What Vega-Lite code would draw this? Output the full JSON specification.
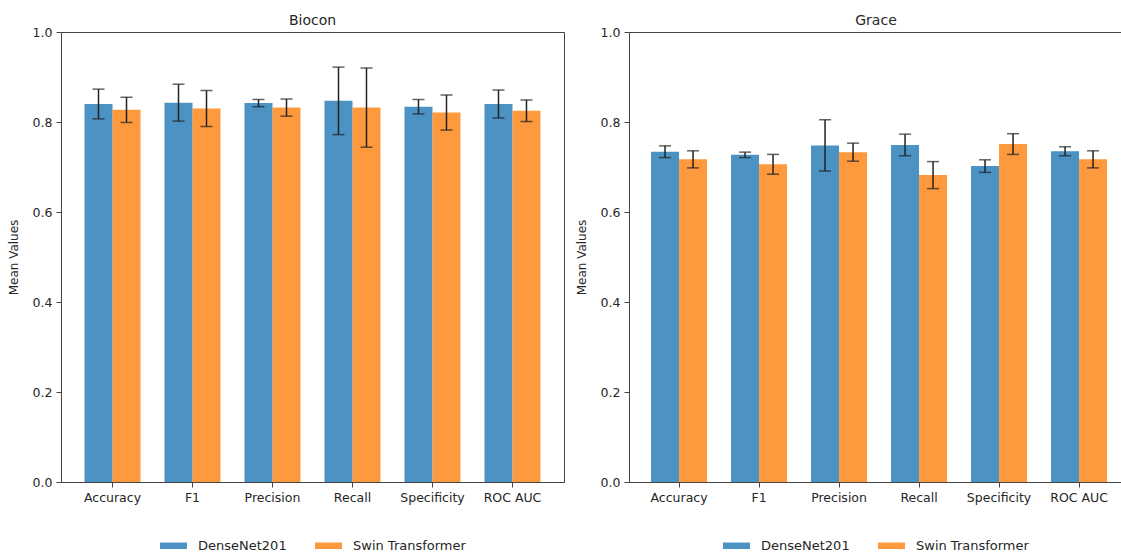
{
  "$schema": "https://vega.github.io/schema/vega-lite/v6.json",
  "padding": {"left": 6, "top": 13, "right": 0, "bottom": 0},
  "background": "white",
  "config": {
    "font": "DejaVu Sans",
    "view": {"stroke": "#444", "strokeWidth": 1},
    "axis": {"labelFont": "DejaVu Sans", "labelFontSize": 12.5, "labelColor": "#262626", "titleFont": "DejaVu Sans", "titleFontSize": 12, "titleFontWeight": "normal", "titleColor": "#262626", "domainColor": "#444", "tickColor": "#444", "grid": false, "tickSize": 5, "labelPadding": 4},
    "legend": {"layout": {"bottom": {"anchor": "middle"}}},
    "title": {"fontSize": 14, "fontWeight": "normal", "font": "DejaVu Sans", "color": "#262626", "offset": -1.5}
  },
  "datasets": {
    "biocon": [
      {"metric": "Accuracy", "model": "DenseNet201", "mean": 0.840, "err": 0.033},
      {"metric": "Accuracy", "model": "Swin Transformer", "mean": 0.827, "err": 0.028},
      {"metric": "F1", "model": "DenseNet201", "mean": 0.843, "err": 0.041},
      {"metric": "F1", "model": "Swin Transformer", "mean": 0.830, "err": 0.040},
      {"metric": "Precision", "model": "DenseNet201", "mean": 0.842, "err": 0.008},
      {"metric": "Precision", "model": "Swin Transformer", "mean": 0.832, "err": 0.019},
      {"metric": "Recall", "model": "DenseNet201", "mean": 0.847, "err": 0.075},
      {"metric": "Recall", "model": "Swin Transformer", "mean": 0.832, "err": 0.088},
      {"metric": "Specificity", "model": "DenseNet201", "mean": 0.834, "err": 0.016},
      {"metric": "Specificity", "model": "Swin Transformer", "mean": 0.821, "err": 0.039},
      {"metric": "ROC AUC", "model": "DenseNet201", "mean": 0.840, "err": 0.031},
      {"metric": "ROC AUC", "model": "Swin Transformer", "mean": 0.825, "err": 0.024}
    ],
    "grace": [
      {"metric": "Accuracy", "model": "DenseNet201", "mean": 0.734, "err": 0.013},
      {"metric": "Accuracy", "model": "Swin Transformer", "mean": 0.717, "err": 0.019},
      {"metric": "F1", "model": "DenseNet201", "mean": 0.727, "err": 0.006},
      {"metric": "F1", "model": "Swin Transformer", "mean": 0.706, "err": 0.022},
      {"metric": "Precision", "model": "DenseNet201", "mean": 0.748, "err": 0.057},
      {"metric": "Precision", "model": "Swin Transformer", "mean": 0.733, "err": 0.020},
      {"metric": "Recall", "model": "DenseNet201", "mean": 0.749, "err": 0.024},
      {"metric": "Recall", "model": "Swin Transformer", "mean": 0.682, "err": 0.030},
      {"metric": "Specificity", "model": "DenseNet201", "mean": 0.702, "err": 0.014},
      {"metric": "Specificity", "model": "Swin Transformer", "mean": 0.751, "err": 0.023},
      {"metric": "ROC AUC", "model": "DenseNet201", "mean": 0.735, "err": 0.010},
      {"metric": "ROC AUC", "model": "Swin Transformer", "mean": 0.717, "err": 0.019}
    ]
  },
  "resolve": {"legend": {"color": "independent"}, "scale": {"color": "independent"}},
  "spacing": 9,
  "hconcat": [
    {
      "title": "Biocon",
      "width": 503,
      "height": 450,
      "data": {"name": "biocon"},
      "encoding": {
        "x": {"field": "metric", "type": "nominal", "sort": ["Accuracy", "F1", "Precision", "Recall", "Specificity", "ROC AUC"], "scale": {"paddingInner": 0.3, "paddingOuter": 0.294}, "axis": {"title": null, "labelAngle": 0}},
        "xOffset": {"field": "model", "type": "nominal", "sort": ["DenseNet201", "Swin Transformer"]}
      },
      "layer": [
        {
          "mark": {"type": "bar", "opacity": 0.8},
          "encoding": {
            "y": {"field": "mean", "type": "quantitative", "scale": {"domain": [0, 1]}, "title": "Mean Values", "axis": {"title": "Mean Values", "values": [0, 0.2, 0.4, 0.6, 0.8, 1.0], "format": ".1f", "titlePadding": 12}},
            "color": {"field": "model", "type": "nominal", "scale": {"domain": ["DenseNet201", "Swin Transformer"], "range": ["#1f77b4", "#ff7f0e"]}, "legend": {"title": null, "orient": "bottom", "direction": "horizontal", "symbolType": "M-1,-0.24H1V0.24H-1Z", "symbolSize": 729, "symbolStrokeWidth": 0, "symbolOpacity": 0.8, "labelFontSize": 13, "labelFont": "DejaVu Sans", "labelColor": "#262626", "labelOffset": 11, "columnPadding": 28, "offset": 28}}
          }
        },
        {
          "mark": {"type": "errorbar", "color": "#222", "thickness": 1.5, "ticks": {"size": 12, "color": "#222", "thickness": 1.5}},
          "encoding": {
            "y": {"field": "mean", "type": "quantitative", "title": "Mean Values"},
            "yError": {"field": "err"}
          }
        }
      ]
    },
    {
      "title": "Grace",
      "width": 494,
      "height": 450,
      "data": {"name": "grace"},
      "encoding": {
        "x": {"field": "metric", "type": "nominal", "sort": ["Accuracy", "F1", "Precision", "Recall", "Specificity", "ROC AUC"], "scale": {"paddingInner": 0.3, "paddingOuter": 0.2375, "align": 0.58}, "axis": {"title": null, "labelAngle": 0}},
        "xOffset": {"field": "model", "type": "nominal", "sort": ["DenseNet201", "Swin Transformer"]}
      },
      "layer": [
        {
          "mark": {"type": "bar", "opacity": 0.8},
          "encoding": {
            "y": {"field": "mean", "type": "quantitative", "scale": {"domain": [0, 1]}, "title": "Mean Values", "axis": {"title": "Mean Values", "values": [0, 0.2, 0.4, 0.6, 0.8, 1.0], "format": ".1f", "titlePadding": 12}},
            "color": {"field": "model", "type": "nominal", "scale": {"domain": ["DenseNet201", "Swin Transformer"], "range": ["#1f77b4", "#ff7f0e"]}, "legend": {"title": null, "orient": "bottom", "direction": "horizontal", "symbolType": "M-1,-0.24H1V0.24H-1Z", "symbolSize": 729, "symbolStrokeWidth": 0, "symbolOpacity": 0.8, "labelFontSize": 13, "labelFont": "DejaVu Sans", "labelColor": "#262626", "labelOffset": 11, "columnPadding": 28, "offset": 28}}
          }
        },
        {
          "mark": {"type": "errorbar", "color": "#222", "thickness": 1.5, "ticks": {"size": 12, "color": "#222", "thickness": 1.5}},
          "encoding": {
            "y": {"field": "mean", "type": "quantitative", "title": "Mean Values"},
            "yError": {"field": "err"}
          }
        }
      ]
    }
  ]
}
